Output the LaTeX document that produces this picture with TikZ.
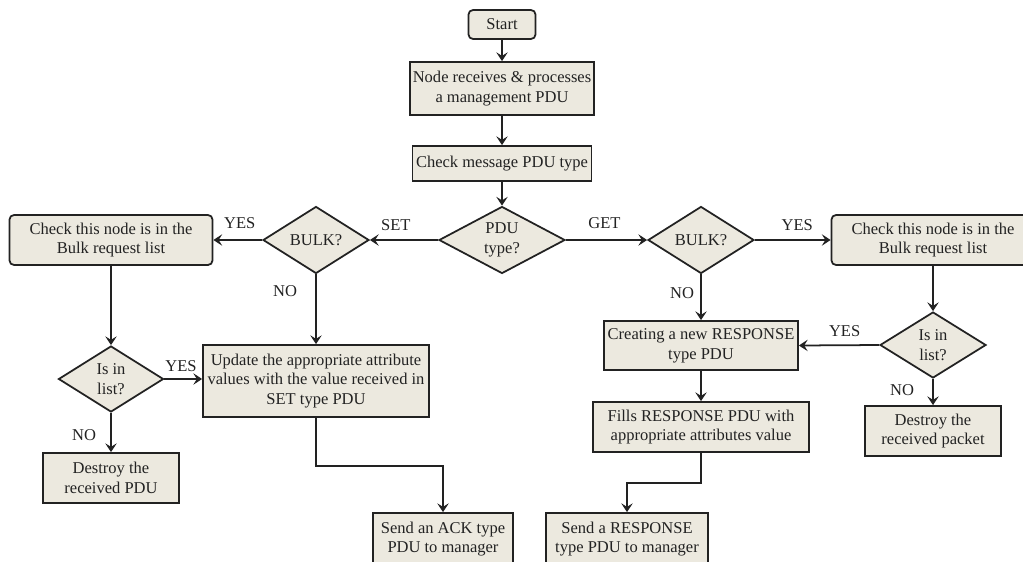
\documentclass[tikz,border=0pt]{standalone}
\usepackage{fontspec}
\setmainfont{Liberation Serif}
\usetikzlibrary{arrows.meta,shapes.geometric}
\definecolor{boxfill}{HTML}{ECE9DF}
\definecolor{ink}{HTML}{222222}
\begin{document}
\begin{tikzpicture}[x=0.02cm,y=-0.02cm,
  every node/.style={font=\fontsize{9.4}{11.2}\selectfont, text=ink},
  box/.style={rectangle, draw=ink, line width=1pt, fill=boxfill, inner sep=0pt, align=center},
  rbox/.style={box, rounded corners=0.09cm},
  decision/.style={diamond, draw=ink, line width=1pt, fill=boxfill, aspect=1.6, inner sep=0pt, align=center},
  arr/.style={draw=ink, line width=1pt, -{Stealth[length=5pt,width=6.5pt,inset=2pt]}},
  lbl/.style={inner sep=0pt}]
\useasboundingbox (0,0) rectangle (1023,561);
\clip (0,0) rectangle (1023,561);
\fill[white] (0,0) rectangle (1023,561);

% main column
\node[rbox, minimum width=67*0.02cm, minimum height=29*0.02cm] (start) at (502,24.5) {Start};
\node[box, minimum width=184*0.02cm, minimum height=53*0.02cm] (recv) at (502,88.5) {Node receives \& processes\\a management PDU};
\node[box, minimum width=179*0.02cm, minimum height=35*0.02cm] (chk) at (502,163.5) {Check message PDU type};
\node[decision, minimum width=126*0.02cm, minimum height=67*0.02cm] (pdu) at (502,240) {PDU\\type?};

% SET branch
\node[decision, minimum width=106*0.02cm, minimum height=67*0.02cm] (bulkL) at (316,240) {BULK?};
\node[rbox, minimum width=203*0.02cm, minimum height=50*0.02cm] (checkL) at (111,240) {Check this node is in the\\Bulk request list};
\node[decision, minimum width=105*0.02cm, minimum height=66*0.02cm] (inL) at (111,379) {Is in\\list?};
\node[box, minimum width=136*0.02cm, minimum height=50*0.02cm] (dpdu) at (111,478) {Destroy the\\received PDU};
\node[box, minimum width=226*0.02cm, minimum height=72*0.02cm] (upd) at (316,381) {Update the appropriate attribute\\values with the value received in\\SET type PDU};
\node[box, minimum width=140*0.02cm, minimum height=52*0.02cm] (ack) at (443,539) {Send an ACK type\\PDU to manager};

% GET branch
\node[decision, minimum width=106*0.02cm, minimum height=67*0.02cm] (bulkR) at (701,240) {BULK?};
\node[rbox, minimum width=203*0.02cm, minimum height=50*0.02cm] (checkR) at (933,240) {Check this node is in the\\Bulk request list};
\node[decision, minimum width=106*0.02cm, minimum height=66*0.02cm] (inR) at (933,345) {Is in\\list?};
\node[box, minimum width=136*0.02cm, minimum height=50*0.02cm] (dpkt) at (933,431) {Destroy the\\received packet};
\node[box, minimum width=194*0.02cm, minimum height=49*0.02cm] (create) at (701,345.5) {Creating a new RESPONSE\\type PDU};
\node[box, minimum width=216*0.02cm, minimum height=50*0.02cm] (fills) at (701,427) {Fills RESPONSE PDU with\\appropriate attributes value};
\node[box, minimum width=162*0.02cm, minimum height=52*0.02cm] (resp) at (627,539) {Send a RESPONSE\\type PDU to manager};

% connectors
\draw[arr] (start) -- (recv);
\draw[arr] (recv) -- (chk);
\draw[arr] (chk) -- (pdu);
\draw[arr] (pdu.west) -- node[lbl, pos=0.62, yshift=0.30cm] {SET} (bulkL.east);
\draw[arr] (pdu.east) -- node[lbl, pos=0.475, yshift=0.34cm] {GET} (bulkR.west);
\draw[arr] (bulkL.west) -- node[lbl, pos=0.46, yshift=0.34cm] {YES} (checkL.east);
\draw[arr] (bulkL.south) -- node[lbl, pos=0.24, xshift=-0.62cm] {NO} (upd.north);
\draw[arr] (checkL.south) -- (inL.north);
\draw[arr] (inL.east) -- node[lbl, pos=0.44, yshift=0.26cm] {YES} (inL.east -| upd.west);
\draw[arr] (inL.south) -- node[lbl, pos=0.56, xshift=-0.54cm] {NO} (dpdu.north);
\draw[arr] (upd.south) -- ++(0,48) -| (ack.north);
\draw[arr] (bulkR.east) -- node[lbl, pos=0.56, yshift=0.30cm] {YES} (checkR.west);
\draw[arr] (bulkR.south) -- node[lbl, pos=0.42, xshift=-0.38cm] {NO} (create.north);
\draw[arr] (checkR.south) -- (inR.north);
\draw[arr] (inR.west) -- node[lbl, pos=0.43, yshift=0.28cm] {YES} (create.east);
\draw[arr] (inR.south) -- node[lbl, pos=0.43, xshift=-0.62cm] {NO} (dpkt.north);
\draw[arr] (create) -- (fills);
\draw[arr] (fills.south) -- ++(0,30) -| (resp.north);
\end{tikzpicture}
\end{document}
